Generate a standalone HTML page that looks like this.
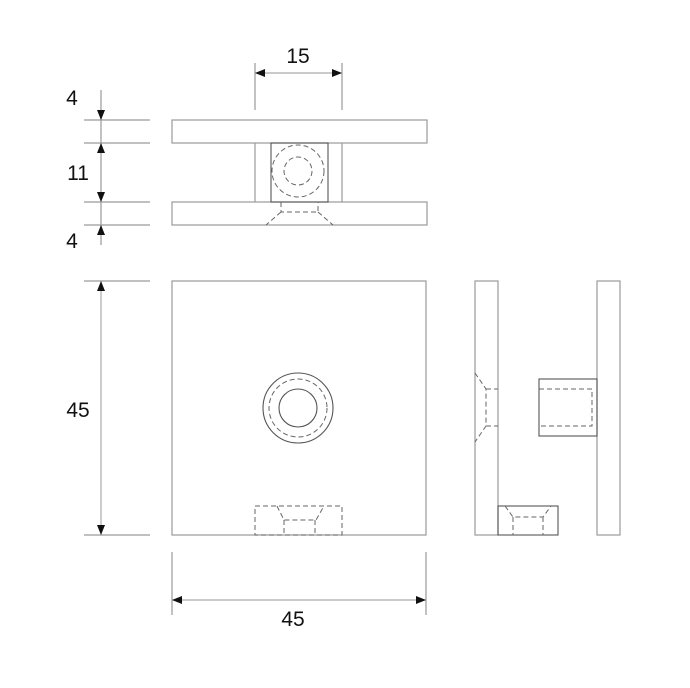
<!DOCTYPE html>
<html><head><style>
html,body{margin:0;padding:0;background:#fff;}
svg{display:block;}
text{font-family:"Liberation Sans",sans-serif;font-size:21px;fill:#111;}
</style></head><body>
<svg width="690" height="688" viewBox="0 0 690 688" xmlns="http://www.w3.org/2000/svg">
<defs>
<marker id="a" markerWidth="10" markerHeight="8" refX="10" refY="4" orient="auto" markerUnits="userSpaceOnUse">
<path d="M0,0 L10,4 L0,8 Z" fill="#111"/></marker>
</defs>
<g fill="none" stroke="#9a9a9a" stroke-width="1.2">
<rect x="172" y="120" width="255" height="23"/>
<rect x="172" y="202" width="255" height="23"/>
<line x1="255" y1="143" x2="255" y2="202"/>
<line x1="342" y1="143" x2="342" y2="202"/>
<rect x="172" y="281" width="254" height="254"/>
<rect x="475" y="281" width="23" height="254"/>
<rect x="597" y="281" width="23" height="254"/>
<line x1="255" y1="63" x2="255" y2="110"/>
<line x1="342" y1="63" x2="342" y2="110"/>
<line x1="84" y1="120" x2="150" y2="120"/>
<line x1="84" y1="143" x2="150" y2="143"/>
<line x1="84" y1="202" x2="150" y2="202"/>
<line x1="84" y1="225" x2="150" y2="225"/>
<line x1="101" y1="90" x2="101" y2="245"/>
<line x1="84" y1="281" x2="150" y2="281"/>
<line x1="84" y1="535" x2="150" y2="535"/>
<line x1="172" y1="552" x2="172" y2="615"/>
<line x1="426" y1="552" x2="426" y2="615"/>
</g>
<g stroke="#aaa" stroke-width="1.2" fill="none">
<line x1="265" y1="73" x2="332" y2="73"/>
<line x1="101" y1="110" x2="101" y2="120" marker-end="url(#a)"/>
<line x1="101" y1="153" x2="101" y2="143" marker-end="url(#a)"/>
<line x1="101" y1="192" x2="101" y2="202" marker-end="url(#a)"/>
<line x1="101" y1="235" x2="101" y2="225" marker-end="url(#a)"/>
<line x1="101" y1="291" x2="101" y2="281" marker-end="url(#a)"/>
<line x1="101" y1="525" x2="101" y2="535" marker-end="url(#a)"/>
<line x1="101" y1="291" x2="101" y2="525"/>
<line x1="182" y1="600" x2="416" y2="600"/>
<line x1="265" y1="73" x2="255" y2="73" marker-end="url(#a)"/>
<line x1="332" y1="73" x2="342" y2="73" marker-end="url(#a)"/>
<line x1="182" y1="600" x2="172" y2="600" marker-end="url(#a)"/>
<line x1="416" y1="600" x2="426" y2="600" marker-end="url(#a)"/>
</g>
<g fill="none" stroke="#555" stroke-width="1.1">
<rect x="271" y="143" width="57" height="59"/>
<circle cx="298" cy="408" r="35"/>
<circle cx="298" cy="408" r="19"/>
<rect x="539" y="379" width="58" height="57"/>
<rect x="498" y="506" width="60" height="29"/>
</g>
<g fill="none" stroke="#666" stroke-width="1" stroke-dasharray="5,3">
<circle cx="298" cy="171" r="26"/>
<circle cx="298" cy="171" r="14"/>
<path d="M281 202 L281 212 L318 212 L318 202 M281 212 L266 225 M318 212 L333 225"/>
<circle cx="298" cy="408" r="29"/>
<rect x="255" y="506" width="87" height="29"/>
<path d="M277 506 L284 520 L316 520 L324 506 M284 520 L284 535 M315 520 L315 535"/>
<path d="M475 373 L486 389 L486 426 L475 442 M486 389 L498 389 M486 426 L498 426"/>
<path d="M539 389 L592 389 L592 426 L539 426"/>
<path d="M505 506 L513 517 L543 517 L551 506 M513 517 L513 535 M543 517 L543 535"/>
</g>
<text x="298" y="63" text-anchor="middle">15</text>
<text x="72" y="105" text-anchor="middle">4</text>
<text x="78" y="180" text-anchor="middle">11</text>
<text x="72" y="248" text-anchor="middle">4</text>
<text x="78" y="417" text-anchor="middle">45</text>
<text x="293" y="626" text-anchor="middle">45</text>
</svg>
</body></html>
